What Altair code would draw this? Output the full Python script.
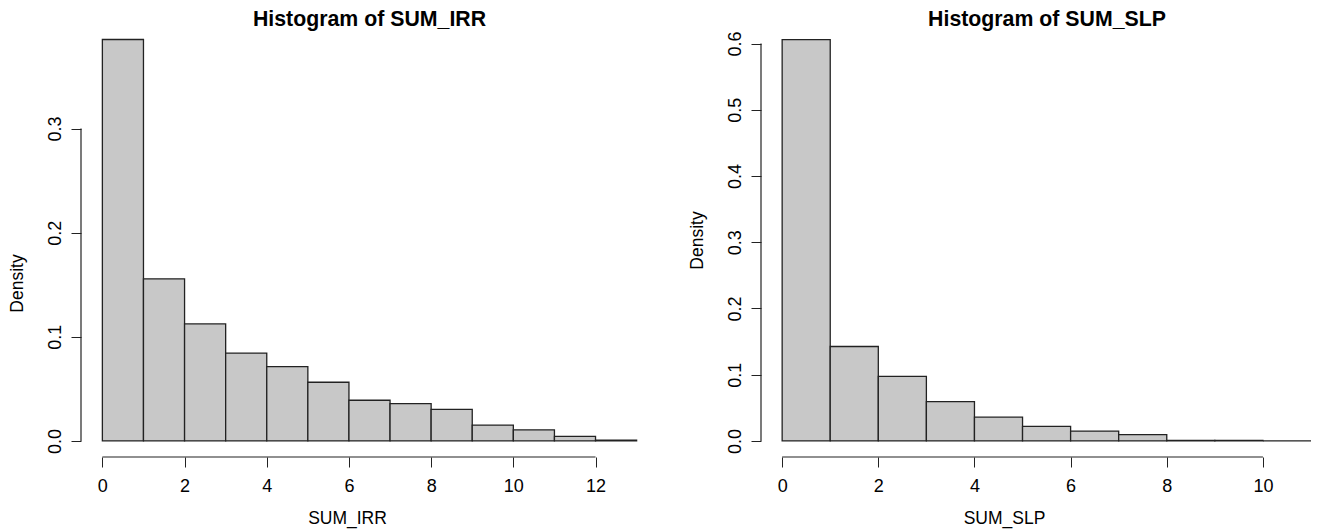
import altair as alt
import pandas as pd

# ---- data ----
irr_breaks = [0, 1, 2, 3, 4, 5, 6, 7, 8, 9, 10, 11, 12, 13]
irr_density = [0.3855, 0.1557, 0.1124, 0.0844, 0.0714, 0.0564, 0.0391,
               0.0358, 0.0303, 0.0153, 0.0107, 0.0045, 0.0008]
irr_xticks = [0, 2, 4, 6, 8, 10, 12]
irr_yticks = [0.0, 0.1, 0.2, 0.3]

slp_breaks = [0, 1, 2, 3, 4, 5, 6, 7, 8, 9, 10, 11]
slp_density = [0.6060, 0.1426, 0.0974, 0.0595, 0.0359, 0.0220, 0.0149,
               0.0097, 0.0010, 0.0010, 0.0]
slp_xticks = [0, 2, 4, 6, 8, 10]
slp_yticks = [0.0, 0.1, 0.2, 0.3, 0.4, 0.5, 0.6]

FONT = "Liberation Sans"
H = 433
LINE = "#222222"


def panel(breaks, dens, xticks, yticks, xdom, ydom, W, title, xlab,
          title_dx, xlab_x, ylab_y):
    df = pd.DataFrame({"x0": breaks[:-1], "x1": breaks[1:], "d": dens})
    df["base"] = 0.0
    xs = alt.Scale(domain=xdom, nice=False, zero=False)
    ys = alt.Scale(domain=ydom, nice=False, zero=False)
    xaxis = alt.Axis(values=xticks, format="d", domain=False, grid=False,
                     tickSize=10, tickColor=LINE, tickWidth=1,
                     labelFontSize=18, labelColor="black", labelFont=FONT,
                     labelBaseline="alphabetic", labelPadding=24,
                     labelFlush=False, labelOverlap=False,
                     title=xlab, titleFont=FONT, titleFontSize=17.5,
                     titleFontWeight="normal", titleColor="black",
                     titleX=xlab_x, titleY=66, titleAlign="center",
                     titleBaseline="alphabetic")
    yaxis = alt.Axis(values=yticks, format=".1f", domain=False, grid=False,
                     tickSize=10, tickColor=LINE, tickWidth=1,
                     labelFontSize=18, labelColor="black", labelFont=FONT,
                     labelAngle=270, labelAlign="center",
                     labelBaseline="alphabetic", labelPadding=11,
                     labelFlush=False, labelOverlap=False,
                     title="Density", titleFont=FONT, titleFontSize=17.5,
                     titleFontWeight="normal", titleColor="black",
                     titleAngle=270, titleX=-59, titleY=ylab_y,
                     titleAlign="center", titleBaseline="alphabetic")
    bars = alt.Chart(df).mark_rect(
        fill="#c8c8c8", stroke=LINE, strokeWidth=1.3
    ).encode(
        x=alt.X("x0:Q", scale=xs, axis=xaxis),
        x2="x1:Q",
        y=alt.Y("d:Q", scale=ys, axis=yaxis),
        y2="base:Q",
    )
    xline_df = pd.DataFrame({"a": [xticks[0]], "b": [xticks[-1]]})
    yline_df = pd.DataFrame({"a": [yticks[0]], "b": [yticks[-1]]})
    xline = alt.Chart(xline_df).mark_rule(color=LINE, strokeWidth=1.2).encode(
        x=alt.X("a:Q", scale=xs), x2="b:Q", y=alt.value(H))
    yline = alt.Chart(yline_df).mark_rule(color=LINE, strokeWidth=1.2).encode(
        y=alt.Y("a:Q", scale=ys), y2="b:Q", x=alt.value(0))
    return alt.layer(bars, xline, yline).properties(
        width=W, height=H,
        title=alt.TitleParams(title, font=FONT, fontSize=21.3,
                              fontWeight="bold", color="black",
                              anchor="middle", frame="group",
                              baseline="alphabetic", offset=-23.5,
                              dx=title_dx),
    )


left = panel(irr_breaks, irr_density, irr_xticks, irr_yticks,
             [-0.52, 13.52], [-0.0154, 0.4004], 577,
             "Histogram of SUM_IRR", "SUM_IRR", 0, 266, 259)
right = panel(slp_breaks, slp_density, slp_xticks, slp_yticks,
              [-0.44, 11.0], [-0.0242, 0.6295], 550,
              "Histogram of SUM_SLP", "SUM_SLP", 11, 243, 216)

chart = alt.hconcat(left, right, spacing=103, bounds="flush").properties(
    padding={"left": 0, "top": 1, "right": 0, "bottom": 6},
    background="white",
).configure(font=FONT).configure_view(strokeWidth=0, stroke="transparent")

chart.save("out.html", embed_options={"renderer": "svg", "actions": False})
